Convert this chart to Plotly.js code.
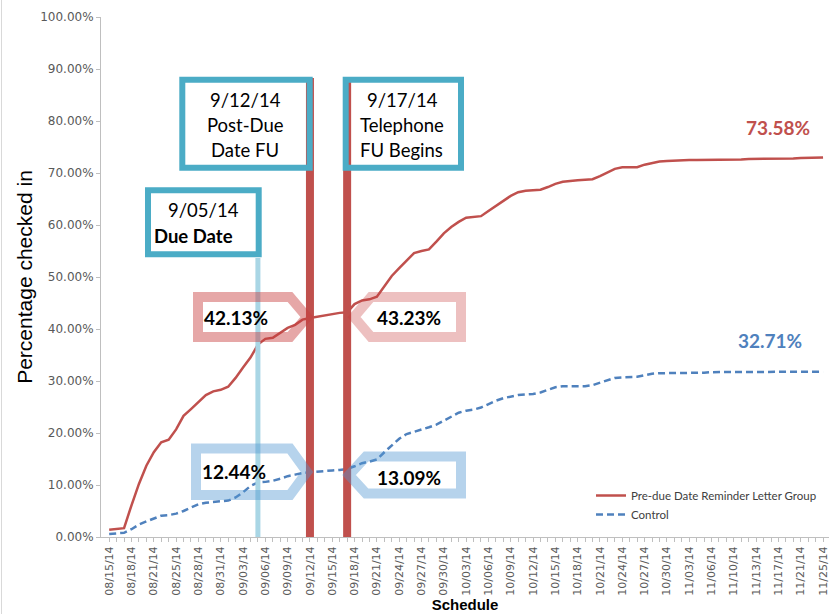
<!DOCTYPE html>
<html><head><meta charset="utf-8">
<script src="https://cdn.plot.ly/plotly-3.0.1.min.js"></script>
<style>html,body{margin:0;padding:0;background:#fff}#chart{width:830px;height:614px}</style>
</head><body><div id="chart"></div>
<script>
// ---------------- data ----------------
const firstDate = '2014-08-15';
const lastDate = '2014-11-25';
const skippedDates = ['08/23/14','11/01/14','11/08/14','11/15/14','11/19/14','11/23/14'];
const labelEvery = 3;

const reminderGroup = [
  1.4,1.5,1.7,6.1,10.2,13.7,16.3,18.2,18.7,20.7,
  23.3,24.6,26.0,27.3,28.0,28.3,28.9,30.6,32.6,34.5,
  37.0,38.1,38.3,39.3,40.2,40.8,41.8,42.13,42.4,42.6,
  42.9,43.1,43.23,44.8,45.5,45.7,46.2,48.3,50.2,51.7,
  53.2,54.6,55.0,55.3,56.8,58.4,59.6,60.6,61.4,61.5,
  61.7,62.7,63.7,64.6,65.6,66.3,66.6,66.7,66.8,67.3,
  67.9,68.3,68.5,68.6,68.7,68.8,69.4,70.1,70.8,71.1,
  71.1,71.1,71.6,71.9,72.2,72.3,72.4,72.5,72.5,72.5,
  72.5,72.6,72.6,72.6,72.6,72.6,72.7,72.7,72.7,72.7,
  72.7,72.8,72.8,72.9,72.9,73.0,73.0];
const control = [
  0.6,0.7,0.8,1.5,2.4,3.0,3.6,4.1,4.2,4.5,
  5.0,5.6,6.3,6.6,6.7,6.8,7.0,7.6,8.6,9.8,
  10.5,10.6,10.8,11.2,11.7,12.0,12.3,12.44,12.6,12.7,
  12.8,12.9,13.09,13.6,14.2,14.5,14.9,16.3,17.7,18.9,
  19.8,20.2,20.6,21.1,21.6,22.4,23.2,23.9,24.3,24.5,
  24.9,25.6,26.2,26.7,27.0,27.3,27.4,27.5,27.8,28.3,
  28.8,29.0,29.0,29.0,29.0,29.2,29.7,30.2,30.6,30.7,
  30.8,30.8,31.1,31.4,31.5,31.5,31.5,31.6,31.6,31.6,
  31.6,31.7,31.7,31.7,31.7,31.7,31.7,31.7,31.7,31.8,
  31.8,31.8,31.8,31.8,31.8,31.8,31.8];

const seriesNames = ['Pre-due Date Reminder Letter Group','Control'];
const yTicks = [0,10,20,30,40,50,60,70,80,90,100];
const dueDate = '09/05/14';
const postDueDate = '09/12/14';
const telephoneDate = '09/17/14';
const finalLabels = ['73.58%','32.71%'];
const calloutLabels = ['42.13%','43.23%','12.44%','13.09%'];

// ---------------- categories ----------------
function fmt(d){
  const mm = String(d.getUTCMonth()+1).padStart(2,'0');
  const dd = String(d.getUTCDate()).padStart(2,'0');
  const yy = String(d.getUTCFullYear()).slice(2);
  return mm+'/'+dd+'/'+yy;
}
const scheduleDates = [];
for(let d=new Date(firstDate+'T00:00:00Z'); d<=new Date(lastDate+'T00:00:00Z'); d.setUTCDate(d.getUTCDate()+1)){
  const s = fmt(d);
  if(!skippedDates.includes(s)) scheduleDates.push(s);
}
const tickText = scheduleDates.map((s,i)=> i%labelEvery===0 ? s : '');

// ---------------- geometry helpers ----------------
const W=830, H=614, M={l:101,r:1,t:17,b:77};
const pw=W-M.l-M.r, ph=H-M.t-M.b;
const xRange=[-1.1,96.8];
const fx = p => (p-M.l)/pw;
const fy = p => (H-M.b-p)/ph;
const ix = i => (i-xRange[0])/(xRange[1]-xRange[0]);
const idx = s => scheduleDates.indexOf(s);
const path = pts => 'M '+pts.map(p=>fx(p[0]).toFixed(5)+','+fy(p[1]).toFixed(5)).join(' L ')+' Z';

const RED='#C0504D', BLUE='#4F81BD', TEAL='#4BACC6';

const shapes = [
  {type:'line',xref:'paper',yref:'paper',x0:fx(1.5),x1:fx(1.5),y0:fy(0),y1:fy(614),line:{color:'#D9D9D9',width:1}},
  // milestone lines
  {type:'line',xref:'paper',yref:'paper',x0:ix(idx(dueDate)),x1:ix(idx(dueDate)),y0:fy(258),y1:0,line:{color:'#A9D6E5',width:5},layer:'above'},
  {type:'line',xref:'paper',yref:'paper',x0:ix(idx(postDueDate)),x1:ix(idx(postDueDate)),y0:fy(78),y1:0,line:{color:RED,width:8},layer:'above'},
  {type:'line',xref:'paper',yref:'paper',x0:ix(idx(telephoneDate)),x1:ix(idx(telephoneDate)),y0:fy(78),y1:0,line:{color:RED,width:8},layer:'above'},
  // callouts
  {type:'path',xref:'paper',yref:'paper',path:path([[198,297],[290,297],[307,317],[290,337],[198,337]]),line:{color:'rgba(200,60,60,0.45)',width:10},fillcolor:'rgba(0,0,0,0)',layer:'above'},
  {type:'path',xref:'paper',yref:'paper',path:path([[461,297],[371,297],[354,317],[371,337],[461,337]]),line:{color:'rgba(200,60,60,0.32)',width:10},fillcolor:'rgba(0,0,0,0)',layer:'above'},
  {type:'path',xref:'paper',yref:'paper',path:path([[196,448.5],[290,448.5],[307,472],[290,495],[196,495]]),line:{color:'rgba(80,150,210,0.42)',width:10},fillcolor:'rgba(0,0,0,0)',layer:'above'},
  {type:'path',xref:'paper',yref:'paper',path:path([[461,456.5],[366,456.5],[349,475],[366,493.5],[461,493.5]]),line:{color:'rgba(80,150,210,0.42)',width:10},fillcolor:'rgba(0,0,0,0)',layer:'above'},
  // boxes
  {type:'rect',xref:'paper',yref:'paper',x0:fx(182.3),x1:fx(309.7),y0:fy(79.7),y1:fy(167.7),line:{color:TEAL,width:6},fillcolor:'rgba(0,0,0,0)',layer:'above'},
  {type:'rect',xref:'paper',yref:'paper',x0:fx(345.7),x1:fx(461),y0:fy(79.7),y1:fy(167.7),line:{color:TEAL,width:6},fillcolor:'rgba(0,0,0,0)',layer:'above'},
  {type:'rect',xref:'paper',yref:'paper',x0:fx(148),x1:fx(258.7),y0:fy(190.3),y1:fy(254.3),line:{color:TEAL,width:6},fillcolor:'rgba(0,0,0,0)',layer:'above'}
];

const boxFont = {family:'Lato', size:18.5, color:'#000'};
const pctFont = {family:'Lato', size:19, color:'#000'};
function ann(text,x,y,font,xanchor){
  return {text, xref:'paper', yref:'paper', x:fx(x), y:fy(y), showarrow:false, font, xanchor:xanchor||'center', yanchor:'middle'};
}
const annotations = [
  ann(postDueDate.replace(/^0/,''), 245,100, boxFont),
  ann('Post-Due',245,125,boxFont),
  ann('Date FU',245,150,boxFont),
  ann(telephoneDate.replace(/^0/,''),402,100,boxFont),
  ann('Telephone',402,125,boxFont),
  ann('FU Begins',401,150,boxFont),
  ann(dueDate.replace(/^0/,''),203,210,boxFont),
  ann('<b>Due Date</b>',152,236,boxFont,'left'),
  ann('<b>'+calloutLabels[0]+'</b>',236,317,pctFont),
  ann('<b>'+calloutLabels[1]+'</b>',409,317,pctFont),
  ann('<b>'+calloutLabels[2]+'</b>',234,471,pctFont),
  ann('<b>'+calloutLabels[3]+'</b>',409,477,pctFont),
  ann('<b>'+finalLabels[0]+'</b>',778,127,{family:'Lato',size:19,color:RED}),
  ann('<b>'+finalLabels[1]+'</b>',770,340,{family:'Lato',size:19,color:BLUE})
];

const traces = [
  {x:scheduleDates, y:reminderGroup, type:'scatter', mode:'lines', name:seriesNames[0], line:{color:RED,width:2.5}},
  {x:scheduleDates, y:control, type:'scatter', mode:'lines', name:seriesNames[1], line:{color:BLUE,width:2.5,dash:'7px,4px'}}
];

const layout = {
  width:W, height:H, margin:M, paper_bgcolor:'#fff', plot_bgcolor:'#fff',
  showlegend:true,
  legend:{x:fx(591), xanchor:'left', y:fy(481), yanchor:'top', font:{family:'Lato',size:11.5,color:'#404040'}, bgcolor:'rgba(0,0,0,0)', tracegroupgap:0},
  xaxis:{type:'category', range:xRange, tickmode:'array', tickvals:scheduleDates, ticktext:tickText, tickangle:-90,
    tickfont:{family:'DejaVu Sans',size:11,color:'#595959'}, ticks:'outside', ticklen:4, tickcolor:'#BFBFBF',
    showline:true, linecolor:'#BFBFBF', linewidth:1, showgrid:false, zeroline:false, automargin:false,
    title:{text:'<b>Schedule</b>', font:{family:'Liberation Sans',size:15,color:'#000'}, standoff:4}},
  yaxis:{range:[0,100], tickmode:'array', tickvals:yTicks, ticktext:yTicks.map(v=>v.toFixed(2)+'%'),
    tickfont:{family:'DejaVu Sans',size:12,color:'#595959'}, ticks:'outside', ticklen:4, tickcolor:'#BFBFBF',
    showline:true, linecolor:'#BFBFBF', linewidth:1, showgrid:false, zeroline:false, automargin:false,
    title:{text:'Percentage checked in', font:{family:'Liberation Sans',size:21,color:'#000'}, standoff:1}},
  shapes, annotations
};
Plotly.newPlot('chart', traces, layout, {displayModeBar:false, staticPlot:true});
</script></body></html>
